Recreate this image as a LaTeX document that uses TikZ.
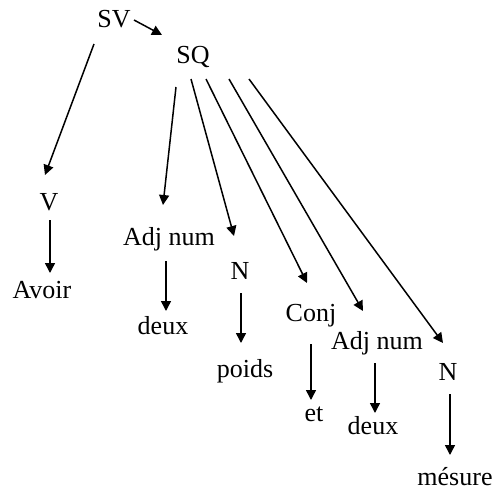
\documentclass[tikz,border=0pt]{standalone}
\usepackage{fontspec}
\setmainfont{Liberation Serif}
\usetikzlibrary{arrows.meta,calc}
\begin{document}
\begin{tikzpicture}[x=0.5pt,y=-0.5pt,
  lbl/.style={anchor=base,inner sep=0pt,font=\fontsize{13}{15}\selectfont},
  arr/.style={-{Triangle[length=5pt,width=5pt]},line width=0.75pt}]
\useasboundingbox (0,0) rectangle (494,488);
\node[lbl] (sv) at (114,27) {SV};
\node[lbl] (sq) at (193,63) {SQ};
\node[lbl] (v) at (49,210) {V};
\node[lbl] (avoir) at (42,298) {Avoir};
\node[lbl] (adj1) at (169,245) {Adj num};
\node[lbl] (deux1) at (163,334) {deux};
\node[lbl] (n1) at (240,279) {N};
\node[lbl] (poids) at (245,377) {poids};
\node[lbl] (conj) at (311,321) {Conj};
\node[lbl] (et) at (314,421) {et};
\node[lbl] (adj2) at (377,349) {Adj num};
\node[lbl] (deux2) at (373,434) {deux};
\node[lbl] (n2) at (448,380) {N};
\node[lbl] (mesure) at (455,485) {mésure};
\draw[arr] ($(sv.base)+(20,-7)$) -- ($(sq.base)+(-31,-28)$);
\draw[arr] ($(sv.base)+(-20,17)$) -- ($(v.base)+(-4,-35)$);
\draw[arr] ($(v.base)+(1,10)$) -- ($(avoir.base)+(8,-25)$);
\draw[arr] ($(sq.base)+(-17,24)$) -- ($(adj1.base)+(-6,-40)$);
\draw[arr] ($(sq.base)+(-2,16)$) -- ($(n1.base)+(-6,-43)$);
\draw[arr] ($(sq.base)+(13,16)$) -- ($(conj.base)+(-4,-38)$);
\draw[arr] ($(sq.base)+(36,16)$) -- ($(adj2.base)+(-14,-38)$);
\draw[arr] ($(sq.base)+(56,16)$) -- ($(n2.base)+(-5,-37)$);
\draw[arr] ($(adj1.base)+(-3,16)$) -- ($(deux1.base)+(3,-23)$);
\draw[arr] ($(n1.base)+(1,14)$) -- ($(poids.base)+(-4,-34)$);
\draw[arr] ($(conj.base)+(0,23)$) -- ($(et.base)+(-3,-21)$);
\draw[arr] ($(adj2.base)+(-2,14)$) -- ($(deux2.base)+(2,-21)$);
\draw[arr] ($(n2.base)+(2,14)$) -- ($(mesure.base)+(-5,-30)$);
\end{tikzpicture}
\end{document}
